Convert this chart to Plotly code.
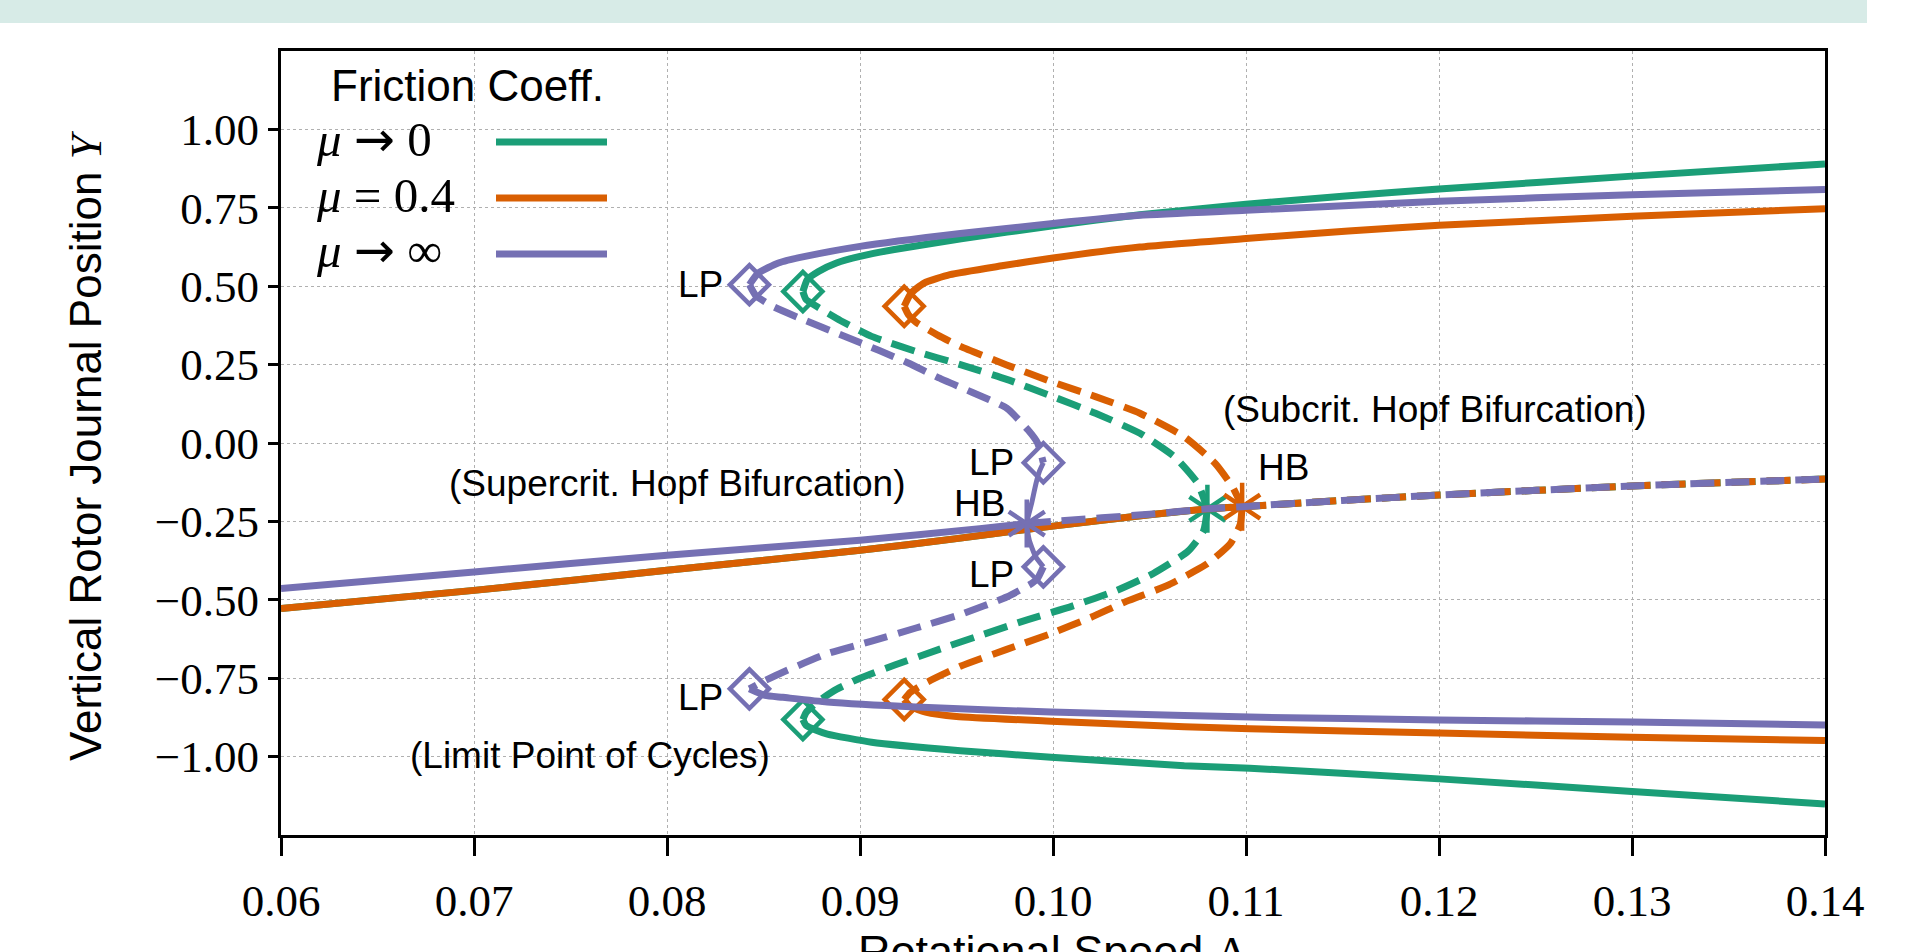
import plotly.graph_objects as go

# ---------------- data ----------------
COLORS = {"green": "#1b9e77", "orange": "#d95f02", "purple": "#7570b3"}
LEGEND_LABELS = [
    "<i>μ</i> <span style=\"font-family:'DejaVu Sans'\">→</span> 0",
    "<i>μ</i> = 0.4",
    "<i>μ</i> <span style=\"font-family:'DejaVu Sans'\">→</span> ∞",
]

X_TICKS = [0.06, 0.07, 0.08, 0.09, 0.10, 0.11, 0.12, 0.13, 0.14]
Y_TICKS = [-1.00, -0.75, -0.50, -0.25, 0.00, 0.25, 0.50, 0.75, 1.00]

# equilibrium branch (green and orange coincide)
EQ_X = [0.060, 0.070, 0.080, 0.090, 0.095, 0.0987, 0.100, 0.105, 0.108, 0.1098, 0.115, 0.120, 0.130, 0.140]
EQ_Y = [-0.528, -0.470, -0.406, -0.342, -0.305, -0.275, -0.265, -0.229, -0.210, -0.203, -0.183, -0.166, -0.137, -0.115]
PURPLE_EQ_X = [0.060, 0.070, 0.080, 0.090, 0.0962, 0.09864, 0.100, 0.105, 0.108, 0.1098, 0.115, 0.120, 0.130, 0.140]
PURPLE_EQ_Y = [-0.464, -0.411, -0.358, -0.310, -0.273, -0.257, -0.250, -0.227, -0.210, -0.203, -0.183, -0.166, -0.137, -0.115]

# Hopf bifurcation points
HB_GREEN = (0.1080, -0.210)
HB_ORANGE = (0.1098, -0.203)
HB_PURPLE = (0.09864, -0.257)

# limit points of cycles
LP_GREEN_X = [0.08704, 0.08704]
LP_GREEN_Y = [0.483, -0.882]
LP_ORANGE_X = [0.09229, 0.09229]
LP_ORANGE_Y = [0.436, -0.818]
LP_PURPLE_X = [0.08427, 0.08427, 0.0995, 0.0995]
LP_PURPLE_Y = [0.505, -0.784, -0.063, -0.395]

# green (mu -> 0) periodic branches
GREEN_UP_S_X = [0.08704, 0.08727, 0.08785, 0.08878, 0.0900, 0.09178, 0.09524, 0.1000, 0.1045, 0.1100, 0.1150, 0.1200, 0.1300, 0.1400]
GREEN_UP_S_Y = [0.483, 0.521, 0.547, 0.574, 0.595, 0.617, 0.651, 0.693, 0.728, 0.761, 0.787, 0.810, 0.851, 0.890]
GREEN_UP_U_X = [0.08704, 0.0872, 0.0879, 0.0890, 0.0906, 0.0929, 0.0952, 0.0976, 0.0999, 0.1022, 0.1045, 0.1063, 0.1075, 0.1080]
GREEN_UP_U_Y = [0.483, 0.458, 0.430, 0.390, 0.340, 0.292, 0.250, 0.203, 0.150, 0.095, 0.031, -0.044, -0.129, -0.210]
GREEN_LO_U_X = [0.1080, 0.1078, 0.1070, 0.1052, 0.1033, 0.1010, 0.0987, 0.0964, 0.0941, 0.0918, 0.0900, 0.0888, 0.0878, 0.08720, 0.08704]
GREEN_LO_U_Y = [-0.210, -0.280, -0.345, -0.416, -0.470, -0.520, -0.563, -0.610, -0.658, -0.708, -0.750, -0.785, -0.825, -0.860, -0.882]
GREEN_LO_S_X = [0.08704, 0.08720, 0.0877, 0.08831, 0.0906, 0.0952, 0.0999, 0.1068, 0.1102, 0.1200, 0.1300, 0.1400]
GREEN_LO_S_Y = [-0.882, -0.900, -0.915, -0.928, -0.954, -0.981, -1.002, -1.029, -1.037, -1.071, -1.111, -1.151]

# orange (mu = 0.4) periodic branches
ORANGE_UP_S_X = [0.09229, 0.09265, 0.09332, 0.09466, 0.09735, 0.1000, 0.1045, 0.1100, 0.1153, 0.1200, 0.1300, 0.1400]
ORANGE_UP_S_Y = [0.436, 0.478, 0.510, 0.537, 0.565, 0.590, 0.625, 0.652, 0.676, 0.694, 0.723, 0.747]
ORANGE_UP_U_X = [0.09229, 0.0925, 0.0929, 0.0940, 0.0952, 0.0976, 0.0999, 0.1022, 0.1045, 0.1068, 0.1084, 0.1093, 0.1098]
ORANGE_UP_U_Y = [0.436, 0.410, 0.385, 0.345, 0.308, 0.249, 0.196, 0.148, 0.095, 0.020, -0.065, -0.140, -0.203]
ORANGE_LO_U_X = [0.1098, 0.1097, 0.1092, 0.1080, 0.1059, 0.1038, 0.1020, 0.0998, 0.0976, 0.0952, 0.0934, 0.0926, 0.09229]
ORANGE_LO_U_Y = [-0.203, -0.260, -0.320, -0.385, -0.455, -0.505, -0.555, -0.610, -0.658, -0.712, -0.765, -0.795, -0.818]
ORANGE_LO_S_X = [0.09229, 0.0926, 0.0934, 0.0950, 0.0999, 0.1068, 0.1102, 0.1200, 0.1300, 0.1400]
ORANGE_LO_S_Y = [-0.818, -0.840, -0.858, -0.872, -0.887, -0.905, -0.911, -0.925, -0.938, -0.949]

# purple (mu -> inf) periodic branches
PURPLE_UP_S_X = [0.08427, 0.08473, 0.08577, 0.08716, 0.0900, 0.0952, 0.1000, 0.1045, 0.1100, 0.1200, 0.1300, 0.1400]
PURPLE_UP_S_Y = [0.505, 0.542, 0.574, 0.595, 0.627, 0.668, 0.700, 0.726, 0.742, 0.771, 0.792, 0.808]
PURPLE_UP_U_X = [0.08427, 0.0846, 0.0855, 0.0870, 0.0890, 0.0910, 0.0925, 0.0940, 0.0958, 0.0976, 0.0987, 0.0992, 0.0995]
PURPLE_UP_U_Y = [0.505, 0.470, 0.435, 0.395, 0.345, 0.295, 0.255, 0.210, 0.162, 0.111, 0.042, 0.000, -0.063]
PURPLE_MID_S_X = [0.0995, 0.0993, 0.09912, 0.09889, 0.09864, 0.09877, 0.0991, 0.0995]
PURPLE_MID_S_Y = [-0.063, -0.090, -0.129, -0.193, -0.257, -0.310, -0.363, -0.395]
PURPLE_LO_U_X = [0.0995, 0.0992, 0.0989, 0.0976, 0.0952, 0.0929, 0.0906, 0.0883, 0.0860, 0.0850, 0.08427]
PURPLE_LO_U_Y = [-0.395, -0.432, -0.448, -0.491, -0.547, -0.590, -0.632, -0.672, -0.731, -0.760, -0.784]
PURPLE_LO_S_X = [0.08427, 0.08508, 0.0860, 0.0883, 0.0929, 0.0999, 0.1068, 0.1102, 0.1200, 0.1300, 0.1400]
PURPLE_LO_S_Y = [-0.784, -0.805, -0.811, -0.826, -0.842, -0.858, -0.869, -0.874, -0.883, -0.890, -0.899]

# ---------------- styling ----------------
LW = 7
DASH = "24px,11px"
SANS = "Liberation Sans, Arial, sans-serif"
SERIF = "Liberation Serif, Times New Roman, serif"

fig = go.Figure()


def line(x, y, color, dashed=False, width=LW):
    fig.add_trace(go.Scatter(
        x=x, y=y, mode="lines", showlegend=False, hoverinfo="skip",
        line=dict(color=color, width=width, dash=DASH if dashed else "solid",
                  shape="spline", smoothing=0.5)))


def split_eq(xs, ys, xhb):
    s = [(a, b) for a, b in zip(xs, ys) if a <= xhb + 1e-9]
    u = [(a, b) for a, b in zip(xs, ys) if a >= xhb - 1e-9]
    return ([p[0] for p in s], [p[1] for p in s]), ([p[0] for p in u], [p[1] for p in u])


def markers(hb, lpx, lpy, color):
    fig.add_trace(go.Scatter(
        x=lpx, y=lpy, mode="markers", showlegend=False, hoverinfo="skip",
        marker=dict(symbol="diamond-open", size=30, color=color,
                    line=dict(color=color, width=4.5))))
    for sym in ("y-up-open", "y-down-open"):
        fig.add_trace(go.Scatter(
            x=[hb[0]], y=[hb[1]], mode="markers", showlegend=False, hoverinfo="skip",
            marker=dict(symbol=sym, size=30, color=color,
                        line=dict(color=color, width=4.5))))


# green
c = COLORS["green"]
(sx, sy), (ux, uy) = split_eq(EQ_X, EQ_Y, HB_GREEN[0])
line(sx, sy, c)
line(ux, uy, c, True)
line(GREEN_UP_S_X, GREEN_UP_S_Y, c)
line(GREEN_UP_U_X, GREEN_UP_U_Y, c, True)
line(GREEN_LO_U_X, GREEN_LO_U_Y, c, True)
line(GREEN_LO_S_X, GREEN_LO_S_Y, c)
markers(HB_GREEN, LP_GREEN_X, LP_GREEN_Y, c)

# orange
c = COLORS["orange"]
(sx, sy), (ux, uy) = split_eq(EQ_X, EQ_Y, HB_ORANGE[0])
line(sx, sy, c)
line(ux, uy, c, True)
line(ORANGE_UP_S_X, ORANGE_UP_S_Y, c)
line(ORANGE_UP_U_X, ORANGE_UP_U_Y, c, True)
line(ORANGE_LO_U_X, ORANGE_LO_U_Y, c, True)
line(ORANGE_LO_S_X, ORANGE_LO_S_Y, c)
markers(HB_ORANGE, LP_ORANGE_X, LP_ORANGE_Y, c)

# purple
c = COLORS["purple"]
(sx, sy), (ux, uy) = split_eq(PURPLE_EQ_X, PURPLE_EQ_Y, HB_PURPLE[0])
line(sx, sy, c)
line(ux, uy, c, True)
line(PURPLE_UP_S_X, PURPLE_UP_S_Y, c)
line(PURPLE_UP_U_X, PURPLE_UP_U_Y, c, True)
line(PURPLE_MID_S_X, PURPLE_MID_S_Y, c, width=5)
line(PURPLE_LO_U_X, PURPLE_LO_U_Y, c, True)
line(PURPLE_LO_S_X, PURPLE_LO_S_Y, c)
markers(HB_PURPLE, LP_PURPLE_X, LP_PURPLE_Y, c)

# ---------------- text annotations ----------------
ann = []
TXT = dict(family=SANS, size=37, color="black")
labels = [
    ("LP", 0.0830, 0.505, "right"),
    ("LP", 0.0830, -0.810, "right"),
    ("LP", 0.0981, -0.063, "right"),
    ("HB", 0.0976, -0.192, "right"),
    ("LP", 0.0981, -0.420, "right"),
    ("HB", 0.1105, -0.077, "left"),
    ("(Subcrit. Hopf Bifurcation)", 0.1087, 0.108, "left"),
    ("(Supercrit. Hopf Bifurcation)", 0.0686, -0.128, "left"),
    ("(Limit Point of Cycles)", 0.0666, -0.997, "left"),
]
for t, x, y, xa in labels:
    ann.append(dict(text=t, x=x, y=y, xref="x", yref="y", xanchor=xa, yanchor="middle",
                    showarrow=False, font=TXT))

# legend (text left, sample line right)
PX_L, PX_R, PX_T, PX_B = 281, 1825, 51, 835


def px(xp):
    return (xp - PX_L) / (PX_R - PX_L)


def py(yp):
    return (PX_B - yp) / (PX_B - PX_T)


ann.append(dict(text="Friction Coeff.", x=px(467), y=py(86), xref="paper", yref="paper",
                xanchor="center", yanchor="middle", showarrow=False,
                font=dict(family=SANS, size=44, color="black")))
shapes = []
leg_rows = [140, 196, 252]
for lab, col, yy in zip(LEGEND_LABELS, [COLORS["green"], COLORS["orange"], COLORS["purple"]], leg_rows):
    ann.append(dict(text=lab, x=px(314), y=py(yy - 1), xref="paper", yref="paper",
                    xanchor="left", yanchor="middle", showarrow=False,
                    font=dict(family=SERIF, size=49, color="black")))
    shapes.append(dict(type="line", xref="paper", yref="paper", x0=px(496), x1=px(607),
                       y0=py(yy + 2), y1=py(yy + 2), line=dict(color=col, width=LW)))

# axis titles
ann.append(dict(text="Vertical Rotor Journal Position <span style=\"font-family:'Liberation Serif'\"><i>Y</i></span>",
                x=px(86), y=py(446), xref="paper", yref="paper", textangle=-90,
                xanchor="center", yanchor="middle", showarrow=False,
                font=dict(family=SANS, size=44, color="black")))
ann.append(dict(text="Rotational Speed <span style=\"font-family:'Liberation Serif'\">Λ</span>",
                x=px(1053), y=py(924), xref="paper", yref="paper",
                xanchor="center", yanchor="top", showarrow=False,
                font=dict(family=SANS, size=45, color="black")))

# top banner
shapes.append(dict(type="rect", xref="paper", yref="paper", x0=px(0), x1=px(1867),
                   y0=py(23), y1=py(0), fillcolor="#d7ebe7", line=dict(width=0), layer="below"))

axis_common = dict(
    showline=True, linecolor="black", linewidth=3, mirror=True,
    showgrid=True, gridcolor="#b0b0b0", gridwidth=1.2, griddash="dot",
    zeroline=False, ticks="outside", tickcolor="black", tickwidth=3,
    tickfont=dict(family=SERIF, size=45, color="black"), tickformat=".2f",
)

fig.update_layout(
    width=1911, height=952, autosize=False,
    margin=dict(l=PX_L, r=1911 - PX_R, t=PX_T, b=952 - PX_B),
    paper_bgcolor="white", plot_bgcolor="white",
    font=dict(family=SANS, color="black"),
    xaxis=dict(range=[0.06, 0.14], tickvals=X_TICKS, ticklen=18, ticklabelstandoff=6, **axis_common),
    yaxis=dict(range=[-1.25, 1.25], tickvals=Y_TICKS, ticklen=10, **axis_common),
    annotations=ann, shapes=shapes, showlegend=False,
)

fig.write_html("out.html")
